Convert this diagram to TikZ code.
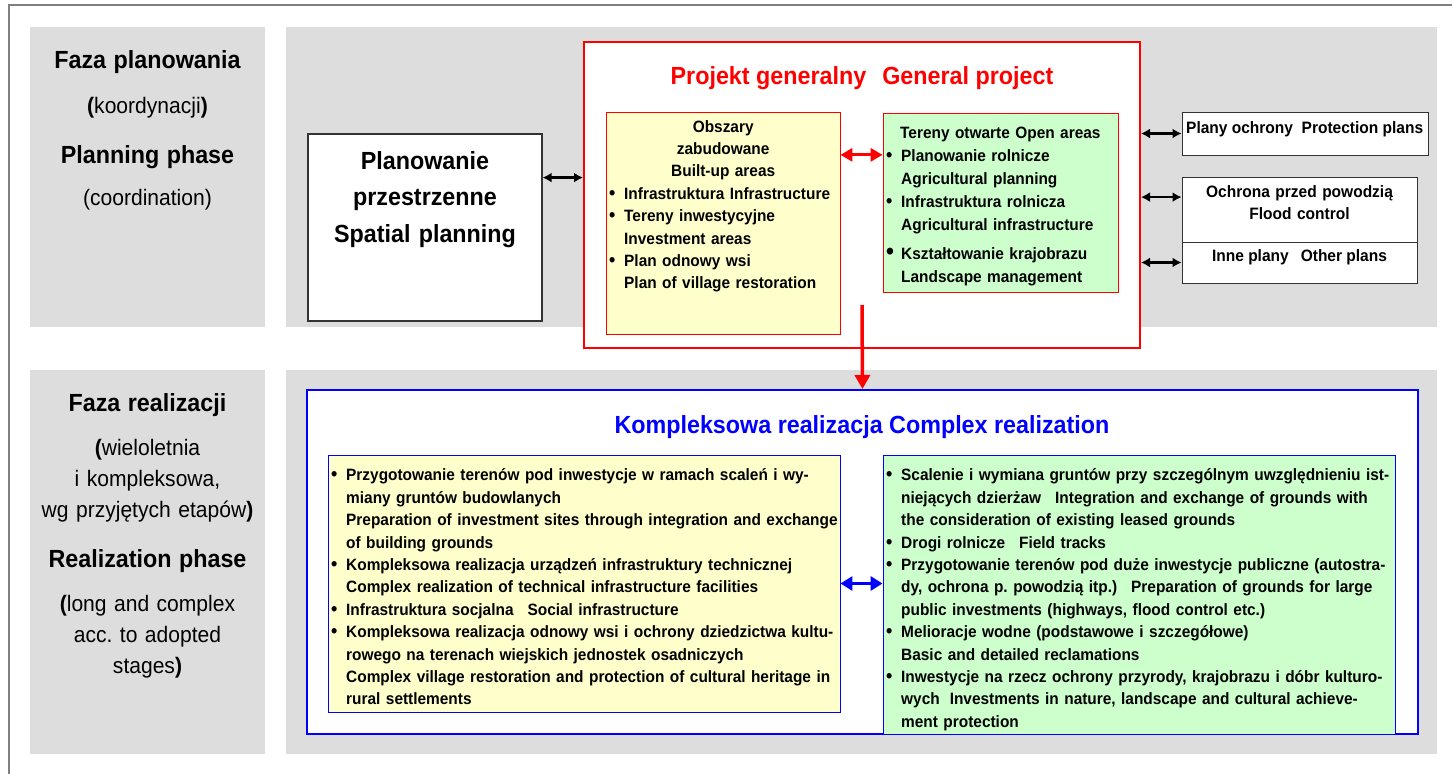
\documentclass[tikz,border=0pt]{standalone}
\usepackage{fontspec}
\setmainfont{Liberation Sans}[FakeStretch=0.94]
\usetikzlibrary{arrows.meta}
\frenchspacing

\definecolor{panelgray}{HTML}{DDDDDD}
\definecolor{builtup}{HTML}{FFFFCC}
\definecolor{openarea}{HTML}{CCFFCC}
\definecolor{framegray}{HTML}{808080}

\newcommand{\hdfont}{\fontsize{24.8}{36.5}\selectfont\bfseries}
\newcommand{\phfont}{\fontsize{22.4}{31}\selectfont}
\newcommand{\itemfont}{\fontsize{16.4}{22.4}\selectfont\bfseries}
\newcommand{\bul}{\par\noindent\hangindent=15pt\hangafter=1\makebox[15pt][l]{\fontsize{19}{19}\selectfont\textbullet}\strut}
\newcommand{\bigbul}{\par\noindent\hangindent=15pt\hangafter=1\makebox[15pt][l]{\fontsize{24}{24}\selectfont\textbullet}\strut}

\begin{document}
\begin{tikzpicture}[
        x=1pt, y=-1pt,
        panel/.style={fill=panelgray},
        box/.style={draw=black!80, fill=white, line width=0.9pt, inner sep=0pt},
        redbox/.style={draw=red, line width=0.9pt, inner sep=0pt},
        bluebox/.style={draw=blue, line width=0.9pt, inner sep=0pt},
        txt/.style={inner sep=0pt, font=\itemfont},
        link/.style={{Latex[length=9pt,width=10pt]}-{Latex[length=9pt,width=10pt]}, line width=2.2pt},
        redlink/.style={{Triangle[length=12pt,width=13pt]}-{Triangle[length=12pt,width=13pt]}, red, line width=3pt},
        bluelink/.style={{Triangle[length=12pt,width=14pt]}-{Triangle[length=12pt,width=14pt]}, blue, line width=3pt},
        downlink/.style={-{Triangle[length=14pt,width=15pt]}, red, line width=3.5pt}
    ]
    \useasboundingbox (0,0) rectangle (1452,774);

    \draw[framegray, line width=1.5pt] (9,774) -- (9,5) -- (1452,5);

    % phase panels
    \fill[panel] (30,27) rectangle (265,327);
    \fill[panel] (286,27) rectangle (1437,327);
    \fill[panel] (30,370) rectangle (265,754);
    \fill[panel] (286,370) rectangle (1437,754);

    \node[txt, font=\phfont, text width=235pt, align=center, anchor=north] (phplan) at (147.5,46.6) {%
        {\strut\bfseries\fontsize{24.8}{31}\selectfont Faza planowania}\\[14pt]
        {\bfseries(}koordynacji{\bfseries)}\\[19pt]
        {\bfseries\fontsize{24.8}{31}\selectfont Planning phase}\\[11pt]
        (coordination)};

    \node[txt, font=\phfont, text width=235pt, align=center, anchor=north] (phreal) at (147.5,389.3) {%
        {\strut\bfseries\fontsize{24.8}{31}\selectfont Faza realizacji}\\[13pt]
        {\bfseries(}wieloletnia\\
        i kompleksowa,\\
        wg przyjętych etapów{\bfseries)}\\[19pt]
        {\bfseries\fontsize{24.8}{31}\selectfont Realization phase}\\[13pt]
        {\bfseries(}long and complex\\
        acc. to adopted\\
        stages{\bfseries)}};

    % planning phase
    \node[box, line width=1.2pt, minimum width=234pt, minimum height=187pt] (plan) at (425,227.5) {};
    \node[txt, font=\hdfont, text width=234pt, align=center, anchor=north] (plantxt) at (425,143.5)
        {\strut Planowanie\\przestrzenne\\Spatial planning};

    \node[box, draw=red, line width=2pt, minimum width=556pt, minimum height=306pt] (proj) at (862,195) {};
    \node[txt, font=\hdfont, text=red, anchor=base] (projtitle) at (862,84)
        {Projekt generalny\hspace{16pt}General project};

    \node[redbox, fill=builtup, minimum width=234pt, minimum height=222pt] (yel) at (723,223) {};
    \node[txt, text width=228pt, align=left, anchor=north west] (yeltxt) at (609,116.3) {%
        {\centering\strut Obszary\\zabudowane\\Built-up areas\par}
        \bul Infrastruktura Infrastructure
        \bul Tereny inwestycyjne\newline Investment areas
        \bul Plan odnowy wsi\newline Plan of village restoration\par};

    \node[redbox, fill=openarea, minimum width=235pt, minimum height=179pt] (grn) at (1000.5,202.5) {};
    \node[txt, font=\fontsize{16.4}{23}\selectfont\bfseries, text width=230pt, align=left, anchor=north west] (grntxt) at (886,121.9) {%
        \noindent\hspace*{14pt}\strut Tereny otwarte Open areas
        \bul Planowanie rolnicze\newline Agricultural planning
        \bul Infrastruktura rolnicza\newline Agricultural infrastructure
        \par\vspace{6pt}
        \bigbul Kształtowanie krajobrazu\newline Landscape management\par};

    \node[box, minimum width=246pt, minimum height=43pt] (prot) at (1305,133.5) {};
    \node[box, minimum width=235pt, minimum height=65pt] (flood) at (1299.5,209.5) {};
    \node[box, minimum width=235pt, minimum height=41pt] (other) at (1299.5,262.5) {};
    \node[txt, font=\fontsize{16.5}{22}\selectfont\bfseries, anchor=base west] (prottxt) at (1186,133)
        {Plany ochrony\ \ Protection plans};
    \node[txt, font=\fontsize{16.5}{22}\selectfont\bfseries, text width=235pt, align=center, anchor=north] (floodtxt) at (1299.5,181.6)
        {\strut Ochrona przed powodzią\\Flood control};
    \node[txt, font=\fontsize{16.5}{22}\selectfont\bfseries, anchor=base] (othertxt) at (1299.5,261)
        {Inne plany\hspace{12pt}Other plans};

    % realization phase
    \node[box, draw=blue, line width=2pt, minimum width=1111pt, minimum height=344pt] (real) at (862.5,562) {};
    \node[txt, font=\hdfont, text=blue, anchor=base] (realtitle) at (862,433)
        {Kompleksowa realizacja Complex realization};

    \node[bluebox, fill=builtup, minimum width=512pt, minimum height=257pt] (ylow) at (584,583.5) {};
    \node[txt, text width=530pt, align=left, anchor=north west] (ylowtxt) at (331,458.3) {%
        \bul Przygotowanie terenów pod inwestycje w ramach scaleń i wy-\newline
        miany gruntów budowlanych\newline
        Preparation of investment sites through integration and exchange\newline
        of building grounds
        \bul Kompleksowa realizacja urządzeń infrastruktury technicznej\newline
        Complex realization of technical infrastructure facilities
        \bul Infrastruktura socjalna\hspace{14pt}Social infrastructure
        \bul Kompleksowa realizacja odnowy wsi i ochrony dziedzictwa kultu-\newline
        rowego na terenach wiejskich jednostek osadniczych\newline
        Complex village restoration and protection of cultural heritage in\newline
        rural settlements\par};

    \node[bluebox, fill=openarea, minimum width=512pt, minimum height=279pt] (glow) at (1139,594.5) {};
    \node[txt, text width=530pt, align=left, anchor=north west] (glowtxt) at (886,458.3) {%
        \bul Scalenie i wymiana gruntów przy szczególnym uwzględnieniu ist-\newline
        niejących dzierżaw\hspace{14pt}Integration and exchange of grounds with\newline
        the consideration of existing leased grounds
        \bul Drogi rolnicze\hspace{14pt}Field tracks
        \bul Przygotowanie terenów pod duże inwestycje publiczne (autostra-\newline
        dy, ochrona p. powodzią itp.)\hspace{14pt}Preparation of grounds for large\newline
        public investments (highways, flood control etc.)
        \bul Melioracje wodne (podstawowe i szczegółowe)\newline
        Basic and detailed reclamations
        \bul Inwestycje na rzecz ochrony przyrody, krajobrazu i dóbr kulturo-\newline
        wych\hspace{10pt}Investments in nature, landscape and cultural achieve-\newline
        ment protection\par};

    % connectors
    \draw[link] (plan.23.3) -- (plan.23.3 -| proj.west);
    \draw[link] (prot.west -| proj.east) -- (prot.west);
    \draw[link] (flood.174.4 -| proj.east) -- (flood.174.4);
    \draw[link] (other.west -| proj.east) -- (other.west);
    \draw[redlink] (yel.east |- grn.158) -- (grn.158);
    \coordinate (projout) at (862,305);
    \draw[downlink] (projout) -- (real.north);
    \draw[bluelink] (ylow.east) -- (ylow.east -| glow.west);
\end{tikzpicture}
\end{document}
